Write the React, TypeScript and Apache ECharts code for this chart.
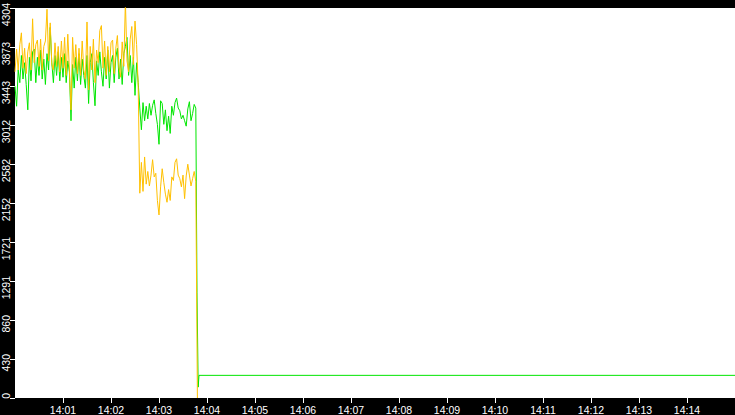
import React, { useEffect, useRef } from 'react';
import * as echarts from 'echarts';

// seconds after 14:00:00, one sample every 2 s
const phase1Start = 0;
const phase2Start = 156;
const sampleStep = 2;

const greenPhase1 = [
    3440, 3220, 3620, 3480, 3780, 3520, 3700, 3460, 3180, 3760,
    3500, 3820, 3850, 3480, 3760, 3560, 3840, 3520, 3740, 3460,
    3800, 3620, 4090, 3700, 3480, 3780, 3560, 3820, 3500, 3760,
    3540, 3800, 3480, 3720, 3600, 3060, 3680, 3420, 3760, 3500,
    3800, 3460, 3740, 3560, 3420, 3780, 3250, 3700, 3800, 3480,
    3225, 3720, 3560, 3820, 3600, 3440, 3760, 3520, 3840, 3420,
    3700, 3780, 3480, 3760, 3860, 3520, 3740, 3460, 3800, 3880,
    3980, 3560, 3780, 3480, 3760, 3340, 3700, 3480,
];

const orangePhase1 = [
    3600, 3850, 3620, 3900, 4030, 3640, 3860, 3580, 3820, 3920,
    3620, 4185, 3700, 3900, 3950, 3660, 3960, 3620, 3880, 3940,
    4290, 3720, 4140, 3680, 3620, 3920, 3660, 3880, 3600, 3940,
    3640, 3980, 3560, 4015, 3620, 3180, 3980, 3640, 3900, 3580,
    3860, 3560, 3940, 3620, 3520, 4150, 3400, 3880, 3620, 3960,
    3480, 3840, 3700, 4055, 4110, 3640, 3940, 3560, 3880, 3600,
    3920, 3950, 3580, 3860, 4000, 3640, 3540, 3930, 3660, 4380,
    3720, 3600, 3960, 4100, 3680, 4160, 3900, 3440,
];

const greenPhase2 = [
    3200, 2960, 3260, 3060, 3220, 3080, 3250, 3120, 3230, 3290,
    3140, 3020, 2800, 3280, 3250, 3020, 3180, 2950, 3110, 2920,
    3220, 3120, 3260, 3310, 3200, 3170, 3080, 3120, 3060, 3000,
    3190, 3270, 3060, 3140, 3240, 3200,
];

const orangePhase2 = [
    2260, 2600, 2280, 2660, 2360, 2500, 2340, 2460, 2630, 2440,
    2480, 2180, 2020, 2330, 2530, 2380, 2250, 2160, 2300, 2180,
    2440, 2400, 2600, 2640, 2460, 2420, 2330, 2460, 2200, 2450,
    2580, 2460, 2340, 2420, 2500, 2390,
];

const greenTailTimes = [227.5, 229, 230, 900];
const greenTailValues = [1160, 120, 250, 250];
const orangeTailTimes = [228];
const orangeTailValues = [0];

const xTickLabels = [
    '14:01', '14:02', '14:03', '14:04', '14:05', '14:06', '14:07',
    '14:08', '14:09', '14:10', '14:11', '14:12', '14:13', '14:14',
];
const yTickLabels = ['0', '430', '860', '1291', '1721', '2152', '2582', '3012', '3443', '3873', '4304'];

const buildSeries = (p1: number[], p2: number[], tailT: number[], tailV: number[]) => [
    ...p1.map((v, i) => [phase1Start + i * sampleStep, v]),
    ...p2.map((v, i) => [phase2Start + i * sampleStep, v]),
    ...tailT.map((t, i) => [t, tailV[i]]),
];

const App: React.FC = () => {
    const chartRef = useRef<HTMLDivElement>(null);

    useEffect(() => {
        if (!chartRef.current) return;
        const chart = echarts.init(chartRef.current, undefined, { renderer: 'svg' });

        const font = 'Liberation Sans';
        chart.setOption({
            animation: false,
            backgroundColor: '#000',
            grid: {
                left: 15,
                right: 0,
                top: 0,
                bottom: 16,
                show: true,
                backgroundColor: '#fff',
                borderWidth: 0,
            },
            xAxis: {
                type: 'value',
                min: 0,
                max: 900,
                interval: 60,
                axisLine: { show: false },
                splitLine: { show: false },
                axisTick: { show: true, length: 5, lineStyle: { color: '#fff', width: 1 } },
                axisLabel: {
                    color: '#fff',
                    fontFamily: font,
                    fontSize: 10.5,
                    margin: 6,
                    showMinLabel: false,
                    showMaxLabel: false,
                    formatter: (v: number) => xTickLabels[Math.round(v / 60) - 1] ?? '',
                },
            },
            yAxis: {
                type: 'value',
                min: 0,
                max: 4304,
                interval: 430.4,
                axisLine: { show: false },
                splitLine: { show: false },
                axisTick: { show: true, length: 5, lineStyle: { color: '#fff', width: 1 } },
                axisLabel: {
                    color: '#fff',
                    fontFamily: font,
                    fontSize: 10.5,
                    rotate: 90,
                    align: 'right',
                    verticalAlign: 'bottom',
                    margin: 4,
                    padding: [0, -5, 0, 0],
                    formatter: (v: number) => yTickLabels[Math.round(v / 430.4)] ?? '',
                },
            },
            series: [
                {
                    type: 'line',
                    name: 'green',
                    data: buildSeries(greenPhase1, greenPhase2, greenTailTimes, greenTailValues),
                    showSymbol: false,
                    symbol: 'none',
                    lineStyle: { color: '#00e600', width: 1 },
                },
                {
                    type: 'line',
                    name: 'orange',
                    data: buildSeries(orangePhase1, orangePhase2, orangeTailTimes, orangeTailValues),
                    showSymbol: false,
                    symbol: 'none',
                    lineStyle: { color: '#ffc000', width: 1 },
                },
            ],
        });

        return () => chart.dispose();
    }, []);

    return (
        <div
            ref={chartRef}
            style={{ position: 'fixed', left: 0, top: 0, width: 735, height: 415 }}
        />
    );
};

export default App;
